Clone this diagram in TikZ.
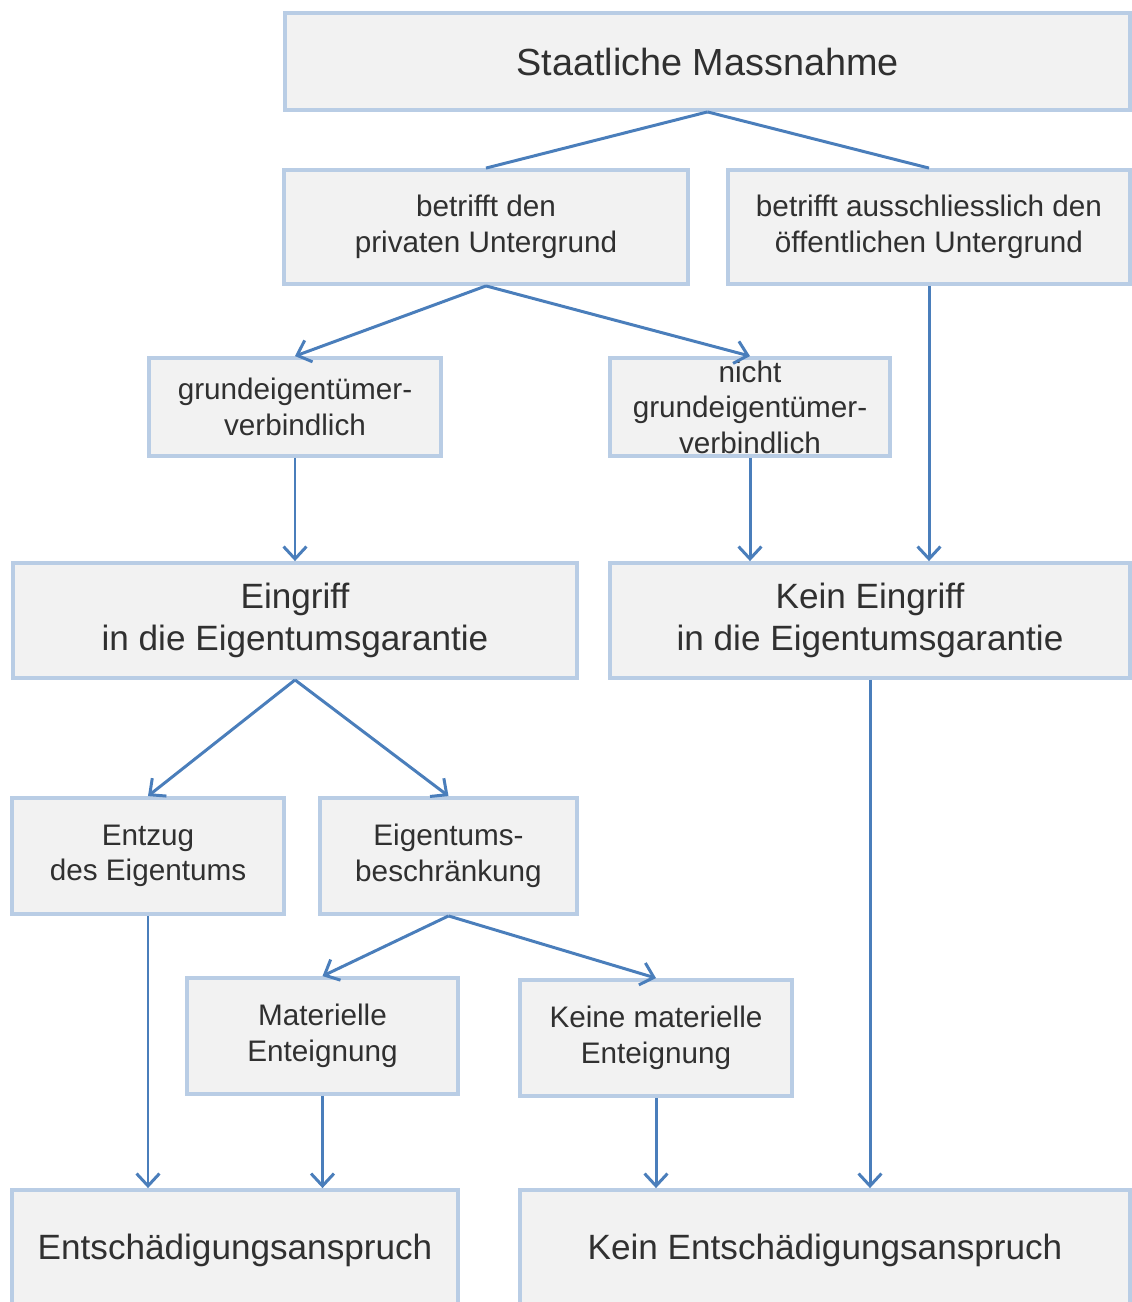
\documentclass[tikz,border=0pt]{standalone}
\usepackage{fontspec}
\setmainfont{Liberation Sans}
\usetikzlibrary{arrows.meta}

\definecolor{kastenfill}{HTML}{F2F2F2}
\definecolor{kastenrand}{HTML}{B9CDE5}
\definecolor{pfeilblau}{HTML}{4A7EBB}
\definecolor{schrift}{HTML}{303030}

\tikzset{
  kasten/.style={draw=kastenrand, fill=kastenfill, line width=2.2pt, inner sep=0pt,
    align=center, text=schrift},
  titel/.style={font=\fontsize{21.5}{25}\selectfont},
  gross/.style={font=\fontsize{20}{23.8}\selectfont},
  mittel/.style={font=\fontsize{16.9}{20.2}\selectfont},
  linie/.style={draw=pfeilblau, line width=1.7pt},
  pfeil/.style={linie, -{Straight Barb[length=7pt,width=13pt,line width=1.7pt]}}
}

\begin{document}
\begin{tikzpicture}[x=0.02cm,y=-0.02cm]

\useasboundingbox (0,0) rectangle (1132,1302);

% top
\node[kasten,titel,minimum width=16.9cm,minimum height=1.94cm] (staat) at (707.5,61.5) {Staatliche Massnahme};

% Untergrund
\node[kasten,mittel,minimum width=8.08cm,minimum height=2.28cm] (privat) at (486,227) {betrifft den\\privaten Untergrund};
\node[kasten,mittel,minimum width=8.04cm,minimum height=2.28cm] (oeff) at (929,227) {betrifft ausschliesslich den\\öffentlichen Untergrund};

% verbindlich or not
\node[kasten,mittel,minimum width=5.84cm,minimum height=1.96cm] (grund) at (295,407) {grundeigentümer-\\verbindlich};
\node[kasten,mittel,minimum width=5.6cm,minimum height=1.96cm,inner ysep=-12pt] (nicht) at (750,407) {nicht\\grundeigentümer-\\verbindlich};

% Eingriff
\node[kasten,gross,minimum width=11.28cm,minimum height=2.3cm] (eingriff) at (295,620.5) {Eingriff\\in die Eigentumsgarantie};
\node[kasten,gross,minimum width=10.4cm,minimum height=2.3cm] (keingriff) at (870,620.5) {Kein Eingriff\\in die Eigentumsgarantie};

% Entzug / Beschraenkung
\node[kasten,mittel,minimum width=5.44cm,minimum height=2.32cm] (entzug) at (148,856) {Entzug\\des Eigentums};
\node[kasten,mittel,minimum width=5.14cm,minimum height=2.32cm] (beschr) at (448.5,856) {Eigentums-\\beschränkung};

% materielle Enteignung
\node[kasten,mittel,minimum width=5.42cm,minimum height=2.32cm] (mat) at (322.5,1036) {Materielle\\Enteignung};
\node[kasten,mittel,minimum width=5.44cm,minimum height=2.32cm] (kmat) at (656,1038) {Keine materielle\\Enteignung};

% bottom row
\node[kasten,gross,minimum width=8.92cm,minimum height=2.4cm] (entsch) at (235,1250) {Entschädigungsanspruch};
\node[kasten,gross,minimum width=12.2cm,minimum height=2.4cm] (kentsch) at (825,1250) {Kein Entschädigungsanspruch};

% connectors
\draw[linie] (staat.south) -- (privat.north);
\draw[linie] (staat.south) -- (oeff.north);

\draw[pfeil] (privat.south) -- (grund.north);
\draw[pfeil] (privat.south) -- (nicht.north);
\draw[pfeil] (oeff.south) -- (oeff.south |- keingriff.north);

\draw[pfeil] (grund.south) -- (grund.south |- eingriff.north);
\draw[pfeil] (nicht.south) -- (nicht.south |- keingriff.north);

\draw[pfeil] (eingriff.south) -- (entzug.north);
\draw[pfeil] (eingriff.south) -- (beschr.north);

\draw[pfeil] (beschr.south) -- (mat.north);
\draw[pfeil] (beschr.south) -- (kmat.north);

\draw[pfeil] (entzug.south) -- (entzug.south |- entsch.north);
\draw[pfeil] (mat.south) -- (mat.south |- entsch.north);
\draw[pfeil] (kmat.south) -- (kmat.south |- kentsch.north);
\draw[pfeil] (keingriff.south) -- (keingriff.south |- kentsch.north);

\end{tikzpicture}
\end{document}
